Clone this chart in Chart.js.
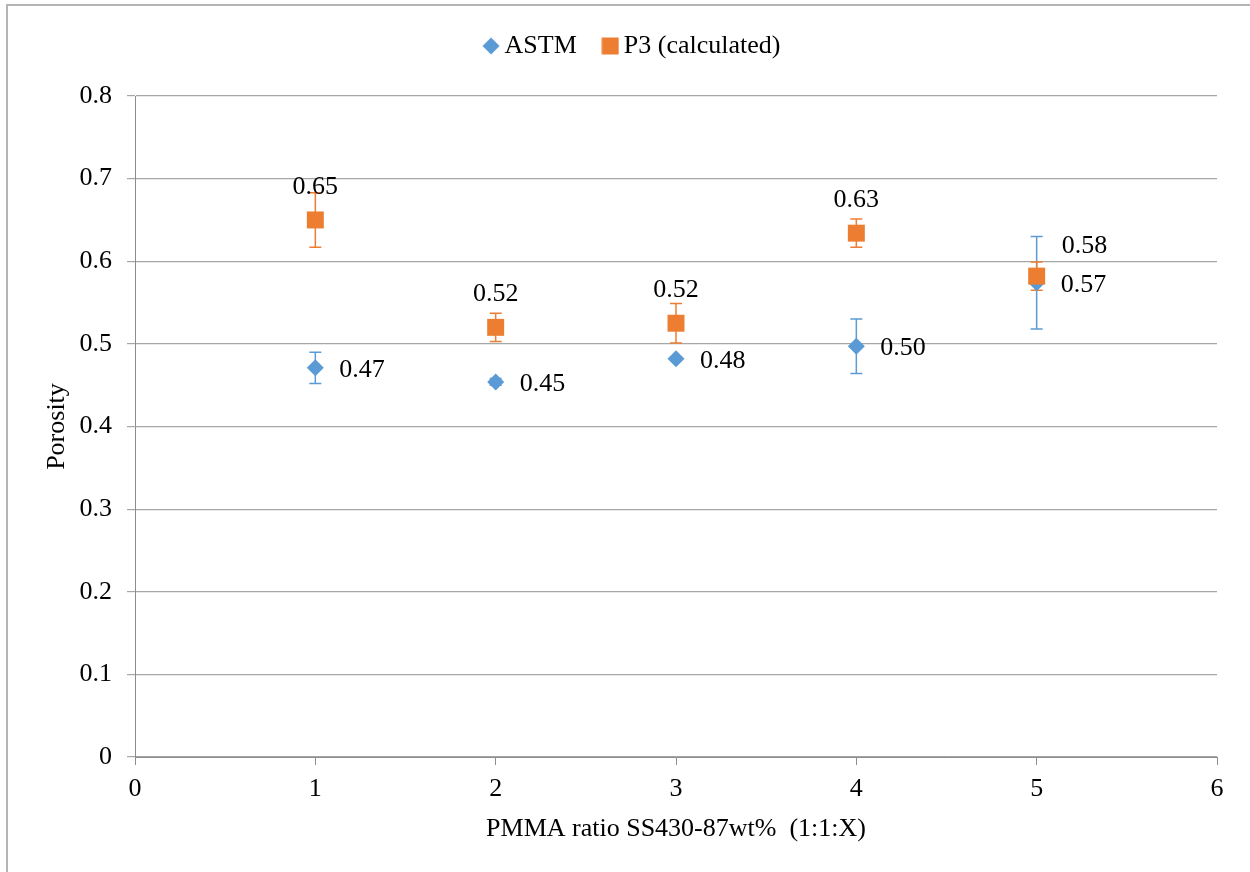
<!DOCTYPE html>
<html>
<head>
<meta charset="utf-8">
<script src="https://cdn.jsdelivr.net/npm/chart.js@4"></script>
<style>
  html, body { margin: 0; padding: 0; background: #fff; }
  #wrap { width: 1250px; height: 872px; position: relative; }
</style>
</head>
<body>
<div id="wrap"><canvas id="porosityChart" width="1250" height="872"></canvas></div>
<script>
// PMMA ratio (1:1:X)
const ratios = [1, 2, 3, 4, 5];
const astmValues = [0.471, 0.454, 0.482, 0.497, 0.574];
const astmErrors = [0.019, 0.004, 0.002, 0.033, 0.056];
const p3Values = [0.650, 0.520, 0.525, 0.634, 0.582];
const p3Errors = [0.033, 0.017, 0.024, 0.017, 0.017];
const astmLabels = ['0.47', '0.45', '0.48', '0.50', '0.57'];
const p3Labels = ['0.65', '0.52', '0.52', '0.63', '0.58'];

const serif = "'Liberation Serif', 'Times New Roman', serif";
const blue = '#5B9BD5';
const orange = '#ED7D31';

function toPoints(values) {
    return ratios.map((x, i) => ({ x: x, y: values[i] }));
}

// small legend symbols, same size for the diamond and the square
function makeMarker(shape, color) {
    const c = document.createElement('canvas');
    c.width = 18; c.height = 18;
    const g = c.getContext('2d');
    g.fillStyle = color;
    g.beginPath();
    if (shape === 'diamond') {
        g.moveTo(9, 0.5); g.lineTo(17.5, 9); g.lineTo(9, 17.5); g.lineTo(0.5, 9);
        g.closePath();
    } else {
        g.rect(0.5, 0.5, 17, 17);
    }
    g.fill();
    return c;
}
const legendMarkers = [makeMarker('diamond', blue), makeMarker('square', orange)];

// error bars drawn under the markers, value +/- error through the scales
const errorBars = {
    id: 'errorBars',
    beforeDatasetsDraw(chart) {
        const ctx = chart.ctx;
        const xs = chart.scales.x;
        const ys = chart.scales.y;
        chart.data.datasets.forEach(ds => {
            ctx.save();
            ctx.strokeStyle = ds.borderColor;
            ctx.lineWidth = 1.5;
            ds.data.forEach((p, i) => {
                const err = ds.errors[i];
                const px = xs.getPixelForValue(p.x);
                const top = ys.getPixelForValue(p.y + err);
                const bot = ys.getPixelForValue(p.y - err);
                ctx.beginPath();
                ctx.moveTo(px, top); ctx.lineTo(px, bot);
                ctx.moveTo(px - 6, top); ctx.lineTo(px + 6, top);
                ctx.moveTo(px - 6, bot); ctx.lineTo(px + 6, bot);
                ctx.stroke();
            });
            ctx.restore();
        });
    }
};

// value labels next to each marker
const valueLabels = {
    id: 'valueLabels',
    afterDatasetsDraw(chart) {
        const ctx = chart.ctx;
        ctx.save();
        ctx.font = '26px ' + serif;
        ctx.fillStyle = '#000';
        ctx.textBaseline = 'middle';
        chart.data.datasets.forEach((ds, di) => {
            const meta = chart.getDatasetMeta(di);
            meta.data.forEach((el, i) => {
                const pos = ds.labelPos[i];
                if (pos === 'right') {
                    ctx.textAlign = 'left';
                    ctx.fillText(ds.labels[i], el.x + 24, el.y + 2);
                } else if (pos === 'upright') {
                    ctx.textAlign = 'left';
                    ctx.fillText(ds.labels[i], el.x + 25, el.y - 30);
                } else {
                    ctx.textAlign = 'center';
                    ctx.fillText(ds.labels[i], el.x, el.y - 33);
                }
            });
        });
        ctx.restore();
    }
};

// extra room under the legend, and legend nudged right
const legendSpacing = {
    id: 'legendSpacing',
    beforeInit(chart) {
        const fit = chart.legend.fit;
        chart.legend.fit = function () {
            fit.bind(chart.legend)();
            this.height += 27;
        };
    },
    afterLayout(chart) {
        chart.legend.left += 54;
    }
};

// outer chart frame (left and top edges)
const frame = {
    id: 'frame',
    afterDraw(chart) {
        const ctx = chart.ctx;
        ctx.save();
        ctx.strokeStyle = '#b4b4b4';
        ctx.lineWidth = 2;
        ctx.beginPath();
        ctx.moveTo(7, 872); ctx.lineTo(7, 5); ctx.lineTo(1250, 5);
        ctx.stroke();
        ctx.restore();
    }
};

const ctx = document.getElementById('porosityChart').getContext('2d');
new Chart(ctx, {
    type: 'scatter',
    data: {
        datasets: [
            {
                label: 'ASTM',
                data: toPoints(astmValues),
                errors: astmErrors,
                labels: astmLabels,
                labelPos: ['right', 'right', 'right', 'right', 'right'],
                order: 2,
                pointStyle: 'rectRot',
                pointRadius: 8.5,
                pointHoverRadius: 8.5,
                backgroundColor: blue,
                borderColor: blue,
                borderWidth: 0
            },
            {
                label: 'P3 (calculated)',
                data: toPoints(p3Values),
                errors: p3Errors,
                labels: p3Labels,
                labelPos: ['up', 'up', 'up', 'up', 'upright'],
                order: 1,
                pointStyle: 'rect',
                pointRadius: 12,
                pointHoverRadius: 12,
                backgroundColor: orange,
                borderColor: orange,
                borderWidth: 0
            }
        ]
    },
    options: {
        responsive: false,
        animation: false,
        layout: { padding: { left: 0, right: 33, top: 0, bottom: 0 } },
        plugins: {
            legend: {
                display: true,
                position: 'top',
                labels: {
                    usePointStyle: true,
                    color: '#000',
                    font: { family: serif, size: 26 },
                    padding: 33,
                    boxWidth: 1,
                    generateLabels(chart) {
                        return chart.data.datasets.map((ds, i) => ({
                            text: ds.label,
                            pointStyle: legendMarkers[i],
                            fillStyle: ds.backgroundColor,
                            strokeStyle: ds.borderColor,
                            lineWidth: 0,
                            fontColor: '#000',
                            hidden: false,
                            datasetIndex: i
                        }));
                    }
                }
            },
            tooltip: { enabled: false }
        },
        scales: {
            x: {
                type: 'linear',
                min: 0,
                max: 6,
                ticks: { stepSize: 1, color: '#000', font: { family: serif, size: 26 }, padding: 9 },
                grid: { drawOnChartArea: false, drawTicks: true, tickLength: 8, color: '#8c8c8c' },
                border: { color: '#8c8c8c', width: 1 },
                title: {
                    display: true,
                    text: 'PMMA ratio SS430-87wt%  (1:1:X)',
                    color: '#000',
                    font: { family: serif, size: 26 },
                    padding: { top: 0, bottom: 27 }
                },
                afterFit: scale => { scale.height = 115; }
            },
            y: {
                min: 0,
                max: 0.8,
                ticks: { stepSize: 0.1, color: '#000', font: { family: serif, size: 26 }, padding: 15,
                    callback: v => (Math.round(v * 10) / 10).toString() },
                grid: { color: '#a6a6a6', tickLength: 8, lineWidth: 1.2 },
                border: { color: '#8c8c8c', width: 1 },
                title: {
                    display: true,
                    text: 'Porosity',
                    color: '#000',
                    font: { family: serif, size: 26 },
                    padding: { top: 42, bottom: 0 }
                },
                afterFit: scale => { scale.width = 135; }
            }
        }
    },
    plugins: [legendSpacing, errorBars, valueLabels, frame]
});
</script>
</body>
</html>
